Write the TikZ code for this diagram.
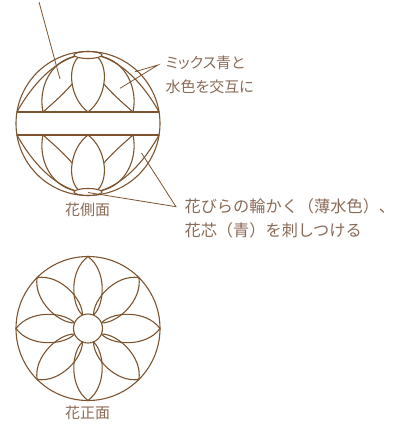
\documentclass[tikz,border=0pt]{standalone}
\usepackage{fontspec}
\setmainfont{Noto Sans CJK JP}
\newfontfamily\proptext{Noto Sans CJK JP}[RawFeature=+palt]
\definecolor{flowerline}{RGB}{125,84,48}
\definecolor{flowertext}{RGB}{138,106,86}
\begin{document}
\begin{tikzpicture}[x=1pt,y=-1pt,line width=1.1pt,flowerline,
  leader/.style={line width=0.8pt,flowerline},
  caption/.style={flowertext,font=\fontsize{15}{15}\selectfont,inner sep=0pt},
  note/.style={flowertext,align=left,inner sep=0pt,anchor=west}]
  \useasboundingbox (0,0) rectangle (401,426);

  % side view
  \begin{scope}[shift={(88,123.5)}]
    \draw (0,0) circle (72);
    \draw (-71.08,-11.5) -- (71.08,-11.5);
    \draw (-71.08,11.5) -- (71.08,11.5);
    \foreach \sy in {1,-1}
      \draw (0,-68.5*\sy) ellipse (14 and 3.5);
    \foreach \sx in {1,-1}
      \foreach \sy in {1,-1} {
        \begin{scope}[xscale=\sx,yscale=\sy]
          \draw (-10,-66) .. controls (-21,-55) and (-18,-25) .. (0,-11.5);
          \draw (-45,-11.5) .. controls (-50,-35) and (-38,-62) .. (-13,-67.2);
          \draw (-45,-11.5) .. controls (-33,-22) and (-22,-32) .. (-15.9,-39.6);
          \draw (-71.08,-11.5) .. controls (-60,-31.5) and (-40,-58.5) .. (-13,-67.2);
        \end{scope}
      }
  \end{scope}

  % front view
  \begin{scope}[shift={(88,328.5)}]
    \draw (0,0) circle (72);
    \draw (0,0) circle (14.5);
    \foreach \a in {0,45,...,315}
      \draw[rotate=\a] (13.4,5.5) .. controls (24,17) and (58,19) .. (72,0)
        .. controls (58,-19) and (24,-17) .. (13.4,-5.5);
  \end{scope}

  \node[caption] (sidecap) at (87.5,210) {花側面};
  \node[caption] (frontcap) at (87.5,413) {花正面};
  \node[note,font=\proptext\fontsize{15}{24}\selectfont] (mixnote) at (165,75) {ミックス青と\\水色を交互に};
  \node[note,font=\fontsize{16.2}{23.5}\selectfont] (stitchnote) at (184,218.3) {花びらの輪かく（薄水色）、\\花芯（青）を刺しつける};

  \coordinate (topend) at (39,2);
  \coordinate (leftpetal) at (60,79);
  \coordinate (mixapex) at (158,65);
  \coordinate (mixA) at (135,71.7);
  \coordinate (mixB) at (120,88.3);
  \coordinate (stitchapex) at (176,206.7);
  \coordinate (outerpetal) at (141.5,153);
  \coordinate (heart) at (88,192.5);
  \draw[leader] (topend) -- (leftpetal);
  \draw[leader] (mixA) -- (mixapex) -- (mixB);
  \draw[leader] (outerpetal) -- (stitchapex) -- (heart);
\end{tikzpicture}
\end{document}
